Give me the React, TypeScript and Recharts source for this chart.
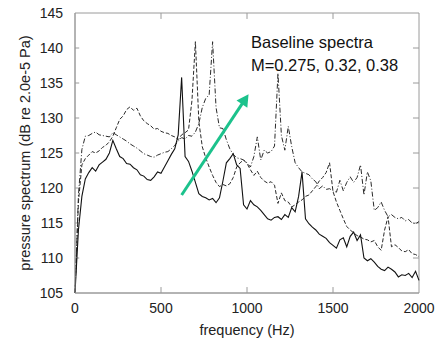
import { LineChart, Line, XAxis, YAxis, ReferenceLine, ReferenceArea, ReferenceDot, Label } from 'recharts'

// frequency grid (Hz)
const freq = [
  0, 20, 40, 60, 80, 100, 120, 140, 160, 180,
  200, 220, 240, 260, 280, 300, 320, 340, 360, 380,
  400, 420, 440, 460, 480, 500, 520, 540, 560, 580,
  600, 620, 640, 660, 680, 700, 720, 740, 760, 780,
  800, 820, 840, 860, 880, 900, 920, 940, 960, 980,
  1000, 1020, 1040, 1060, 1080, 1100, 1120, 1140, 1160, 1180,
  1200, 1220, 1240, 1260, 1280, 1300, 1320, 1340, 1360, 1380,
  1400, 1420, 1440, 1460, 1480, 1500, 1520, 1540, 1560, 1580,
  1600, 1620, 1640, 1660, 1680, 1700, 1720, 1740, 1760, 1780,
  1800, 1820, 1840, 1860, 1880, 1900, 1920, 1940, 1960, 1980,
  2000,
]

// M = 0.275 (solid)
const specM0275 = [
  105, 114, 118.8, 121.3, 122.2, 122.9, 122.4, 123.3, 123.7, 124.1,
  125.0, 126.8, 125.6, 124.5, 124.2, 123.5, 123.4, 122.9, 122.6, 121.9,
  121.7, 121.2, 121.1, 121.6, 122.3, 122.1, 123.0, 123.9, 124.8, 125.6,
  127.6, 135.8, 124.5, 123.8, 122.4, 120.8, 119.2, 118.8, 118.6, 118.3,
  118.5, 117.9, 118.6, 121.0, 123.6, 124.2, 124.9, 123.3, 122.8, 117.6,
  117.0, 118.2, 117.6, 117.3, 116.8, 116.2, 115.6, 115.4, 115.8, 115.9,
  115.5, 116.2, 115.8, 117.2, 116.6, 118.8, 122.3, 115.6, 114.9, 114.4,
  114.0, 113.4, 113.1, 112.8, 112.2, 111.8, 111.4, 112.6, 112.9, 111.6,
  113.1, 113.7, 112.5, 113.3, 110.0, 109.6, 109.9, 109.4, 108.8, 108.4,
  108.2, 108.7, 108.4, 108.0, 107.3, 107.6, 107.5, 107.8, 107.2, 108.1,
  106.8,
]

// M = 0.32 (dashed)
const specM032 = [
  105, 118, 123.3, 124.2, 124.7, 125.2, 125.0, 125.3, 125.8, 126.1,
  126.6, 127.4, 128.6, 129.8, 130.3, 131.2, 131.6, 131.1, 131.4, 130.3,
  129.6, 129.2, 128.9, 128.4, 128.5, 128.1, 127.9, 127.8, 127.5, 127.3,
  126.9, 127.6, 127.9, 128.3, 132.5, 140.9, 129.5, 125.9, 124.3, 123.0,
  121.8, 120.8, 120.2, 120.5, 120.3, 120.6, 121.5, 123.0, 123.6, 124.0,
  123.5, 122.6, 121.8, 122.4, 121.5, 121.0, 120.7, 120.9, 120.4, 117.8,
  119.3, 118.2, 118.0, 117.3, 117.6, 118.0, 118.3, 118.8, 119.0, 119.6,
  120.2, 121.0, 121.5, 122.2, 123.6, 119.5, 118.0, 116.8, 115.6, 114.5,
  114.0, 113.6, 113.2, 113.0, 112.7, 112.6, 112.3, 112.5, 111.6, 111.1,
  114.0, 115.9, 111.6, 111.9, 111.5, 111.0, 110.9, 111.2, 110.6, 110.5,
  110.2,
]

// M = 0.38 (dash-dot)
const specM038 = [
  105, 119, 125.5, 127.4, 127.5, 127.8, 128.0, 127.6, 127.5, 127.4,
  127.3, 127.9, 127.6, 127.3, 127.0, 126.7, 126.3, 126.0, 125.7, 125.3,
  124.9, 124.7, 124.5, 124.4, 124.7, 124.9, 125.1, 125.2, 125.6, 126.1,
  126.7, 127.2, 127.0, 127.5, 127.4, 128.0, 129.2, 131.5, 132.8, 133.3,
  140.9, 131.5, 128.6, 128.5, 126.9, 125.6, 124.8, 124.3, 124.2, 124.0,
  123.6, 123.0, 124.5, 127.3, 124.0, 125.4, 125.0, 125.2, 126.0, 136.4,
  127.5, 125.4, 128.8, 125.9, 123.6, 122.9, 122.3, 122.1, 121.9, 121.3,
  120.9, 119.9, 120.3, 119.8, 119.9, 119.6, 119.4, 121.1, 119.6, 120.8,
  121.6, 120.8, 121.5, 123.3, 119.0, 122.3, 121.0, 116.8, 117.2, 118.0,
  116.8, 115.9, 116.2, 115.8, 115.6, 115.8, 115.3, 115.5, 115.0, 114.9,
  115.2,
]

const xTicks = [0, 500, 1000, 1500, 2000]
const yTicks = [105, 110, 115, 120, 125, 130, 135, 140, 145]
const innerX = [500, 1000, 1500]
const innerY = [110, 115, 120, 125, 130, 135, 140]

const noteLines = ['Baseline spectra', 'M=0.275, 0.32, 0.38']

const data = freq.map((f, i) => ({ f, a: specM0275[i], b: specM032[i], c: specM038[i] }))

const FONT = '"Liberation Sans", Arial, sans-serif'
const FRAME = '#9a9a9a'
const ARROW = '#1cc28c'
// inner tick lengths in data units (~6px)
const TX = 35
const TY = 0.85

function Arrow(p: any) {
  const { x1, y1, x2, y2 } = p
  const dx = x2 - x1
  const dy = y2 - y1
  const len = Math.hypot(dx, dy)
  const ux = dx / len
  const uy = dy / len
  const hl = 12
  const hw = 6.5
  const bx = x2 - ux * hl
  const by = y2 - uy * hl
  return (
    <g>
      <line x1={x1} y1={y1} x2={x2 - ux * 6} y2={y2 - uy * 6} stroke={ARROW} strokeWidth={3} />
      <polygon
        points={`${x2},${y2} ${bx - uy * hw},${by + ux * hw} ${bx + uy * hw},${by - ux * hw}`}
        fill={ARROW}
      />
    </g>
  )
}

function Note(p: any) {
  return (
    <text x={p.cx} y={p.cy} fontFamily={FONT} fontSize={16.5} fill="#111">
      {noteLines.map((t, i) => (
        <tspan key={t} x={p.cx} y={p.cy + i * 23}>{t}</tspan>
      ))}
    </text>
  )
}

export default function App() {
  return (
    <div style={{ position: 'absolute', left: 0, top: 0, background: '#fff' }}>
      <LineChart width={435} height={341} data={data} margin={{ top: 13, right: 16, bottom: 0, left: 0 }}>
        <XAxis
          dataKey="f"
          type="number"
          domain={[0, 2000]}
          ticks={xTicks}
          height={48}
          tickSize={0}
          tickMargin={10}
          axisLine={{ stroke: FRAME }}
          tick={{ fontSize: 14, fontFamily: FONT, fill: '#222' }}
        >
          <Label value="frequency (Hz)" position="insideBottom" offset={6} style={{ fontSize: 14.5, fontFamily: FONT, fill: '#222' }} />
        </XAxis>
        <YAxis
          type="number"
          domain={[105, 145]}
          ticks={yTicks}
          width={75}
          tickSize={0}
          tickMargin={12}
          axisLine={{ stroke: FRAME }}
          tick={{ fontSize: 14, fontFamily: FONT, fill: '#222' }}
        >
          <Label
            value="pressure spectrum (dB re 2.0e-5 Pa)"
            angle={-90}
            position="insideLeft"
            offset={25}
            style={{ fontSize: 14.5, fontFamily: FONT, fill: '#222', textAnchor: 'middle' }}
          />
        </YAxis>
        <ReferenceArea x1={0} x2={2000} y1={105} y2={145} fill="none" stroke={FRAME} />
        {innerX.map((v) => (
          <ReferenceLine key={'b' + v} segment={[{ x: v, y: 105 }, { x: v, y: 105 + TY }]} stroke={FRAME} />
        ))}
        {innerX.map((v) => (
          <ReferenceLine key={'t' + v} segment={[{ x: v, y: 145 }, { x: v, y: 145 - TY }]} stroke={FRAME} />
        ))}
        {innerY.map((v) => (
          <ReferenceLine key={'l' + v} segment={[{ x: 0, y: v }, { x: TX * 0.7, y: v }]} stroke={FRAME} />
        ))}
        {innerY.map((v) => (
          <ReferenceLine key={'r' + v} segment={[{ x: 2000, y: v }, { x: 2000 - TX, y: v }]} stroke={FRAME} />
        ))}
        <Line dataKey="c" type="linear" stroke="#2a2a2a" strokeWidth={1} strokeDasharray="5 2 1 2" dot={false} isAnimationActive={false} />
        <Line dataKey="b" type="linear" stroke="#2a2a2a" strokeWidth={1} strokeDasharray="4 2" dot={false} isAnimationActive={false} />
        <Line dataKey="a" type="linear" stroke="#111" strokeWidth={1.1} dot={false} isAnimationActive={false} />
        <ReferenceLine segment={[{ x: 620, y: 119 }, { x: 1009, y: 133.4 }]} shape={Arrow} />
        <ReferenceDot x={1023} y={140} r={0} shape={Note} />
      </LineChart>
    </div>
  )
}
